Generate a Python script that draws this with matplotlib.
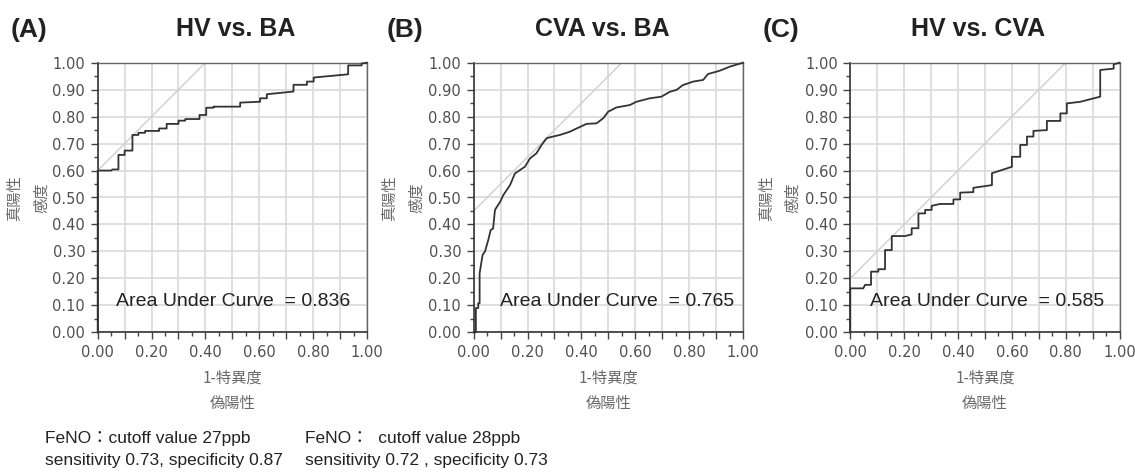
import matplotlib
matplotlib.use("Agg")
import matplotlib.pyplot as plt
from matplotlib.ticker import MultipleLocator, FuncFormatter

plt.rcParams["font.family"] = ["DejaVu Sans"]

# ---------------- data ----------------
panel_tags = ["(A)", "(B)", "(C)"]
panel_titles = ["HV vs. BA", "CVA vs. BA", "HV vs. CVA"]
auc_values = ["0.836", "0.765", "0.585"]
ref_intercepts = [0.60, 0.45, 0.20]   # tangent reference line (slope 1)

fpr_a = [0, 0, 0.05, 0.055, 0.077, 0.077, 0.10, 0.10, 0.129, 0.129, 0.151, 0.151,
         0.176, 0.176, 0.228, 0.228, 0.256, 0.256, 0.30, 0.30, 0.325, 0.325, 0.378,
         0.378, 0.403, 0.403, 0.43, 0.43, 0.529, 0.529, 0.597, 0.603, 0.603, 0.628,
         0.628, 0.727, 0.727, 0.777, 0.777, 0.802, 0.802, 0.93, 0.93, 0.98, 0.98, 1.0]
tpr_a = [0, 0.60, 0.60, 0.604, 0.604, 0.658, 0.658, 0.674, 0.674, 0.732, 0.732, 0.740,
         0.740, 0.747, 0.747, 0.756, 0.756, 0.773, 0.773, 0.785, 0.785, 0.791, 0.791,
         0.806, 0.806, 0.833, 0.833, 0.837, 0.837, 0.852, 0.855, 0.855, 0.868, 0.868,
         0.883, 0.893, 0.918, 0.918, 0.93, 0.93, 0.945, 0.957, 0.99, 0.99, 0.997, 1.0]

fpr_b = [0, 0.008, 0.008, 0.017, 0.017, 0.022, 0.022, 0.033, 0.042, 0.054, 0.063, 0.072,
         0.079, 0.098, 0.11, 0.135, 0.153, 0.172, 0.19, 0.209, 0.233, 0.252, 0.271, 0.29,
         0.32, 0.357, 0.382, 0.419, 0.456, 0.481, 0.499, 0.53, 0.58, 0.604, 0.654, 0.697,
         0.728, 0.753, 0.777, 0.815, 0.852, 0.87, 0.913, 0.95, 1.0]
tpr_b = [0, 0, 0.09, 0.09, 0.108, 0.108, 0.219, 0.287, 0.30, 0.342, 0.379, 0.385,
         0.454, 0.484, 0.509, 0.546, 0.589, 0.602, 0.614, 0.645, 0.664, 0.695, 0.72, 0.725,
         0.732, 0.744, 0.756, 0.773, 0.775, 0.794, 0.818, 0.834, 0.843, 0.855, 0.868, 0.874,
         0.892, 0.899, 0.917, 0.93, 0.936, 0.958, 0.97, 0.985, 1.0]

fpr_c = [0, 0, 0.048, 0.055, 0.077, 0.077, 0.104, 0.104, 0.129, 0.129, 0.154, 0.154,
         0.203, 0.228, 0.228, 0.253, 0.253, 0.278, 0.278, 0.302, 0.302, 0.333, 0.383,
         0.383, 0.408, 0.408, 0.457, 0.457, 0.526, 0.526, 0.60, 0.60, 0.631, 0.631, 0.656,
         0.656, 0.68, 0.68, 0.73, 0.73, 0.78, 0.78, 0.804, 0.804, 0.854, 0.928, 0.928,
         0.978, 0.978, 1.0]
tpr_c = [0, 0.163, 0.163, 0.176, 0.176, 0.225, 0.225, 0.234, 0.234, 0.305, 0.305, 0.357,
         0.357, 0.363, 0.386, 0.386, 0.441, 0.441, 0.454, 0.454, 0.469, 0.476, 0.476,
         0.493, 0.493, 0.518, 0.52, 0.536, 0.546, 0.59, 0.614, 0.651, 0.651, 0.695, 0.695,
         0.726, 0.726, 0.747, 0.75, 0.784, 0.784, 0.812, 0.812, 0.849, 0.855, 0.874, 0.973,
         0.978, 0.994, 1.0]

curves = [(fpr_a, tpr_a), (fpr_b, tpr_b), (fpr_c, tpr_c)]

notes = [
    ["FeNO：cutoff value 27ppb", "sensitivity 0.73, specificity 0.87"],
    ["FeNO：  cutoff value 28ppb", "sensitivity 0.72 , specificity 0.73"],
]

# ---------------- layout ----------------
W, H = 1135, 475
fig = plt.figure(figsize=(W / 100, H / 100), dpi=100)

def px(x, y):
    return x / W, 1 - y / H

axes_left = [97.7, 473.7, 850.3]
axes_w, axes_top, axes_bot = 269.3, 62.7, 332.3
tag_x = [29, 405, 781]
title_x = [236, 602, 978]
ylab1_x = [15, 390, 767]
ylab2_x = [42, 417, 793]
auc_x = [0.068, 0.098, 0.073]
note_x = [45, 305]

cjk = ["Noto Sans CJK JP", "DejaVu Sans"]
tick_col = "#505050"
lab_col = "#6a6a6a"

for i in range(3):
    l = axes_left[i]
    x0, y0 = px(l, axes_bot)
    ax = fig.add_axes([x0, y0, axes_w / W, (axes_bot - axes_top) / H])
    ax.set_xlim(0, 1)
    ax.set_ylim(0, 1)
    ax.xaxis.set_major_locator(MultipleLocator(0.1))
    ax.xaxis.set_minor_locator(MultipleLocator(0.05))
    ax.yaxis.set_major_locator(MultipleLocator(0.1))
    ax.yaxis.set_minor_locator(MultipleLocator(0.05))
    ax.xaxis.set_major_formatter(FuncFormatter(
        lambda v, p: f"{v:.2f}" if round(v * 10) % 2 == 0 else ""))
    ax.yaxis.set_major_formatter(FuncFormatter(lambda v, p: f"{v:.2f}"))
    ax.grid(True, which="major", color="#dcdcdc", linewidth=1.3)
    ax.set_axisbelow(True)
    ax.tick_params(which="major", length=5, width=1, color="#444444",
                   labelsize=10.5, labelcolor=tick_col, pad=4)
    ax.tick_params(which="minor", length=3, width=1, color="#444444")
    for s in ["left", "bottom"]:
        ax.spines[s].set_color("#333333")
        ax.spines[s].set_linewidth(1.2)
    for s in ["top", "right"]:
        ax.spines[s].set_color("#666666")
        ax.spines[s].set_linewidth(1.0)

    b = ref_intercepts[i]
    ax.axline((0, b), slope=1, color="#cfcfcf", linewidth=1.0, zorder=2)
    fx, ty = curves[i]
    ax.plot(fx, ty, color="#333333", linewidth=1.3, clip_on=False, zorder=3)

    ax.text(auc_x[i], 0.116, "Area Under Curve  = " + auc_values[i],
            transform=ax.transAxes, ha="left", va="center", fontsize=14,
            family="Liberation Sans", color="#222222")

    # titles
    fig.text(*px(tag_x[i], 30), panel_tags[i], ha="center", va="center",
             fontsize=19, fontweight="bold", family="Liberation Sans", color="#222222")
    fig.text(*px(title_x[i], 29), panel_titles[i], ha="center", va="center",
             fontsize=18, fontweight="bold", family="Liberation Sans", color="#222222")

    # axis labels
    cx = l + axes_w / 2
    fig.text(*px(cx, 378), "1-特異度", ha="center", va="center",
             fontsize=11, family=cjk, color=lab_col)
    fig.text(*px(cx, 403), "偽陽性", ha="center", va="center",
             fontsize=11, family=cjk, color=lab_col)
    fig.text(*px(ylab1_x[i], 198), "真陽性", ha="center", va="center",
             rotation=90, fontsize=11, family=cjk, color=lab_col)
    fig.text(*px(ylab2_x[i], 198), "感度", ha="center", va="center",
             rotation=90, fontsize=11, family=cjk, color=lab_col)

for j, lines in enumerate(notes):
    for k, line in enumerate(lines):
        fig.text(*px(note_x[j], 438 + 22 * k), line, ha="left", va="center",
                 fontsize=12.5, family=["Liberation Sans", "Noto Sans CJK JP"],
                 color="#222222")

fig.savefig("out.png", dpi=100)
